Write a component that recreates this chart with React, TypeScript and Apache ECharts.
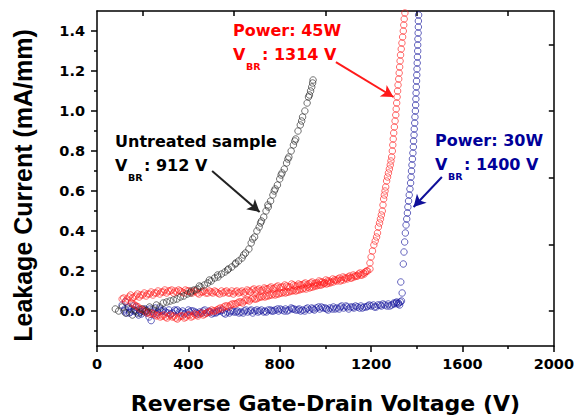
import React, { useEffect, useRef } from "react";
import * as echarts from "echarts";

// Untreated sample (V, mA/mm)
const untreated: [number, number][] = [
  [80, 0.01], [95, 0.0], [110, 0.02], [125, -0.01], [140, 0.01], [155, -0.02], [170, 0.0], [185, -0.01],
  [200, 0.01], [215, 0.0], [230, 0.02], [245, 0.01], [260, 0.03], [275, 0.02], [290, 0.04], [305, 0.045],
  [320, 0.05], [335, 0.055], [350, 0.06], [365, 0.07], [380, 0.075], [395, 0.085], [410, 0.09], [425, 0.105],
  [440, 0.11], [455, 0.12], [470, 0.13], [485, 0.14], [500, 0.15], [515, 0.165], [530, 0.17], [545, 0.185],
  [560, 0.195], [575, 0.21], [590, 0.22], [605, 0.235], [620, 0.25], [635, 0.265], [650, 0.29], [665, 0.31],
  [675, 0.34], [690, 0.37], [700, 0.4], [710, 0.42], [720, 0.45], [730, 0.47], [740, 0.5], [750, 0.52],
  [760, 0.55], [770, 0.58], [780, 0.61], [790, 0.63], [800, 0.66], [810, 0.69], [820, 0.71], [830, 0.74],
  [840, 0.77], [850, 0.8], [860, 0.83], [870, 0.86], [880, 0.9], [890, 0.93], [900, 0.97], [910, 1.0],
  [920, 1.04], [930, 1.08], [940, 1.12], [946, 1.155], [944, 1.14], [935, 1.1],
  [412, 0.1], [448, 0.125], [492, 0.155], [528, 0.18], [572, 0.205], [608, 0.24], [642, 0.28], [682, 0.36],
  [716, 0.44], [748, 0.53], [776, 0.6], [806, 0.68], [836, 0.76], [866, 0.85], [896, 0.95], [926, 1.07],
];

// Power: 45W
const power45Upper: [number, number][] = [
  [110, 0.06], [125, 0.05], [140, 0.07], [155, 0.065], [170, 0.075], [185, 0.07], [200, 0.08], [215, 0.075],
  [230, 0.085], [245, 0.08], [260, 0.09], [275, 0.085], [290, 0.095], [305, 0.09], [320, 0.1], [335, 0.09],
  [350, 0.095], [365, 0.1], [380, 0.09], [395, 0.1], [410, 0.095], [425, 0.1], [440, 0.09], [455, 0.095],
  [470, 0.1], [485, 0.09], [500, 0.095], [515, 0.1], [530, 0.09], [545, 0.1], [560, 0.095], [575, 0.09],
  [590, 0.1], [605, 0.095], [620, 0.09], [635, 0.1], [650, 0.095], [665, 0.1], [680, 0.105], [695, 0.1],
  [710, 0.11], [725, 0.105], [740, 0.11], [755, 0.115], [770, 0.11], [785, 0.12], [800, 0.115], [815, 0.12],
  [830, 0.125], [845, 0.12], [860, 0.13], [875, 0.125], [890, 0.13], [905, 0.135], [920, 0.13], [935, 0.14],
  [950, 0.135], [965, 0.14], [980, 0.145], [995, 0.14], [1010, 0.15], [1025, 0.145], [1040, 0.155], [1055, 0.16],
  [1070, 0.155], [1085, 0.165], [1100, 0.17], [1115, 0.165], [1130, 0.175], [1145, 0.185], [1160, 0.18],
  [1175, 0.195], [1185, 0.2], [1195, 0.21],
  [117, 0.065], [132, 0.06], [147, 0.08], [162, 0.07], [177, 0.085], [192, 0.08], [207, 0.09], [222, 0.085],
  [237, 0.095], [252, 0.09], [267, 0.1], [282, 0.095], [297, 0.105], [312, 0.1], [327, 0.105], [342, 0.1],
  [357, 0.105], [372, 0.095], [387, 0.105], [402, 0.1], [417, 0.09], [432, 0.1], [447, 0.085], [462, 0.095],
  [477, 0.09], [492, 0.1], [507, 0.09], [522, 0.095], [537, 0.085], [552, 0.09], [567, 0.1], [582, 0.09],
  [597, 0.085], [612, 0.1], [627, 0.095], [642, 0.09], [657, 0.105], [672, 0.095], [687, 0.11], [702, 0.105],
  [717, 0.1], [732, 0.115], [747, 0.11], [762, 0.12], [777, 0.115], [792, 0.125], [807, 0.12], [822, 0.13],
  [837, 0.12], [852, 0.135], [867, 0.125], [882, 0.135], [897, 0.13], [912, 0.14], [927, 0.135], [942, 0.145],
  [957, 0.14], [972, 0.15], [987, 0.145], [1002, 0.155], [1017, 0.15], [1032, 0.16], [1047, 0.155], [1062, 0.165],
  [1077, 0.17], [1092, 0.165], [1107, 0.175], [1122, 0.18], [1137, 0.175], [1152, 0.19], [1167, 0.19], [1180, 0.2],
];
const power45Lower: [number, number][] = [
  [150, 0.04], [165, 0.03], [180, 0.02], [195, 0.01], [210, 0.0], [225, -0.005], [240, -0.01], [255, -0.02],
  [270, -0.02], [285, -0.025], [300, -0.03], [315, -0.025], [330, -0.03], [345, -0.035], [360, -0.03],
  [375, -0.025], [390, -0.03], [405, -0.02], [420, -0.025], [435, -0.02], [450, -0.015], [465, -0.02],
  [480, -0.01], [495, -0.005], [510, 0.0], [525, 0.005], [540, 0.015], [555, 0.02], [570, 0.025], [585, 0.03],
  [600, 0.035], [615, 0.04], [630, 0.045], [645, 0.05], [660, 0.055], [675, 0.06], [690, 0.06], [705, 0.065],
  [720, 0.07], [735, 0.07], [750, 0.075], [765, 0.08], [780, 0.08], [795, 0.085], [810, 0.09], [825, 0.09],
  [840, 0.095], [855, 0.1], [870, 0.1], [885, 0.105], [900, 0.11], [915, 0.11], [930, 0.115], [945, 0.12],
  [960, 0.125], [975, 0.13], [990, 0.135], [1005, 0.135], [1020, 0.14], [1035, 0.145], [1050, 0.15],
  [1065, 0.15], [1080, 0.155], [1095, 0.16], [1110, 0.165], [1125, 0.17], [1140, 0.175], [1155, 0.18],
  [1170, 0.185],
  [157, 0.035], [172, 0.025], [187, 0.01], [202, 0.005], [217, -0.01], [232, -0.015], [247, -0.015], [262, -0.025],
  [277, -0.03], [292, -0.02], [307, -0.035], [322, -0.02], [337, -0.025], [352, -0.04], [367, -0.025], [382, -0.035],
  [397, -0.02], [412, -0.03], [427, -0.015], [442, -0.025], [457, -0.01], [472, -0.015], [487, -0.005], [502, 0.005],
  [517, 0.0], [532, 0.01], [547, 0.01], [562, 0.025], [577, 0.02], [592, 0.035], [607, 0.035], [622, 0.045],
  [637, 0.04], [652, 0.055], [667, 0.05], [682, 0.065], [697, 0.06], [712, 0.07], [727, 0.075], [742, 0.075],
  [757, 0.08], [772, 0.085], [787, 0.085], [802, 0.09], [817, 0.095], [832, 0.095], [847, 0.1], [862, 0.105],
  [877, 0.105], [892, 0.11], [907, 0.115], [922, 0.12], [937, 0.12], [952, 0.125], [967, 0.13], [982, 0.13],
  [997, 0.14], [1012, 0.14],
];
const power45Rise: [number, number][] = [
  [1195, 0.24], [1200, 0.27], [1206, 0.3], [1212, 0.33], [1218, 0.35], [1224, 0.37], [1228, 0.39], [1232, 0.42],
  [1237, 0.44], [1241, 0.46], [1245, 0.48], [1249, 0.5], [1252, 0.53], [1255, 0.56], [1258, 0.58], [1261, 0.6],
  [1264, 0.62], [1268, 0.65], [1272, 0.67], [1276, 0.69], [1280, 0.71], [1284, 0.73], [1287, 0.75], [1290, 0.77],
  [1293, 0.8], [1295, 0.83], [1297, 0.86], [1299, 0.89], [1302, 0.92], [1305, 0.95], [1308, 0.98], [1310, 1.01],
  [1312, 1.04], [1314, 1.07], [1316, 1.1], [1318, 1.13], [1321, 1.16], [1323, 1.19], [1325, 1.22], [1327, 1.25],
  [1329, 1.28], [1332, 1.31], [1335, 1.34], [1338, 1.37], [1341, 1.4], [1343, 1.43], [1345, 1.46], [1348, 1.49],
];
const power45 = [...power45Upper, ...power45Lower, ...power45Rise];

// Power: 30W
const power30Flat: [number, number][] = [
  [110, 0.03], [118, 0.0], [125, 0.045], [130, -0.01], [138, 0.02], [145, -0.005], [150, 0.01], [160, 0.0],
  [170, 0.02], [175, -0.01], [185, 0.005], [195, -0.015], [200, 0.0], [210, 0.01], [220, -0.01], [228, -0.03],
  [237, -0.048], [245, 0.0], [255, 0.015], [265, -0.005], [275, 0.01], [285, 0.0], [300, -0.005], [315, 0.005],
  [330, -0.01], [345, 0.0], [360, -0.005], [375, 0.0], [390, -0.01], [405, -0.005], [420, 0.0], [435, -0.01],
  [450, -0.005], [465, 0.0], [480, -0.01], [495, -0.005], [510, -0.01], [525, -0.005], [540, 0.0], [555, -0.01],
  [570, -0.005], [585, 0.0], [600, -0.005], [615, 0.0], [630, -0.005], [645, 0.0], [660, -0.005], [675, 0.005],
  [690, 0.0], [705, -0.005], [720, 0.005], [735, 0.0], [750, 0.005], [765, 0.0], [780, 0.005], [795, 0.0],
  [810, 0.005], [825, 0.01], [840, 0.005], [855, 0.01], [870, 0.005], [885, 0.01], [900, 0.005], [915, 0.01],
  [930, 0.005], [945, 0.01], [960, 0.015], [975, 0.01], [990, 0.015], [1005, 0.01], [1020, 0.015], [1035, 0.02],
  [1050, 0.015], [1065, 0.02], [1080, 0.015], [1095, 0.02], [1110, 0.02], [1125, 0.015], [1140, 0.02],
  [1155, 0.025], [1170, 0.02], [1185, 0.025], [1200, 0.025], [1215, 0.02], [1230, 0.03], [1245, 0.025],
  [1260, 0.03], [1275, 0.035], [1290, 0.03], [1300, 0.035], [1310, 0.04], [1320, 0.04], [1328, 0.045], [1333, 0.05],
  [122, 0.01], [142, -0.01], [157, 0.025], [182, -0.02], [207, -0.005], [232, 0.01], [262, -0.015], [292, 0.005],
  [322, -0.015], [352, 0.005], [382, -0.015], [412, 0.0], [442, -0.015], [472, 0.005], [502, -0.015], [532, 0.0],
  [562, -0.015], [592, 0.0], [622, -0.01], [652, 0.005], [682, -0.01], [712, 0.0], [742, -0.005], [772, 0.0],
  [802, 0.01], [832, 0.0], [862, 0.01], [892, 0.0], [922, 0.015], [952, 0.005], [982, 0.02], [1012, 0.005],
  [1042, 0.01], [1072, 0.025], [1102, 0.01], [1132, 0.025], [1162, 0.015], [1192, 0.03], [1222, 0.02],
  [1252, 0.035], [1282, 0.025], [1312, 0.045], [1325, 0.03],
  [165, 0.005], [190, -0.005], [215, 0.005], [250, -0.01], [280, 0.0], [310, -0.01], [340, 0.005], [370, -0.01],
  [400, 0.005], [430, -0.005], [460, -0.01], [490, 0.0], [520, -0.01], [550, 0.005], [580, -0.01], [610, -0.005],
  [640, -0.01], [670, 0.0], [700, 0.005], [730, -0.005], [760, 0.005], [790, 0.01], [820, 0.0], [850, 0.015],
  [880, 0.005], [910, 0.0], [940, 0.015], [970, 0.02], [1000, 0.015], [1030, 0.01], [1060, 0.01], [1090, 0.025],
  [1120, 0.02], [1150, 0.015], [1180, 0.02], [1210, 0.03], [1240, 0.03], [1270, 0.025], [1300, 0.04], [1318, 0.035],
];
const power30Rise: [number, number][] = [
  [1336, 0.09], [1330, 0.145], [1341, 0.235], [1344, 0.295], [1347, 0.345], [1350, 0.39], [1353, 0.43],
  [1356, 0.46], [1359, 0.49], [1361, 0.52], [1364, 0.55], [1367, 0.58], [1370, 0.61], [1373, 0.64], [1375, 0.67],
  [1377, 0.7], [1379, 0.73], [1381, 0.76], [1383, 0.79], [1385, 0.82], [1386, 0.85], [1388, 0.88], [1389, 0.91],
  [1391, 0.94], [1392, 0.97], [1394, 1.0], [1395, 1.03], [1396, 1.06], [1397, 1.09], [1398, 1.12], [1399, 1.15],
  [1400, 1.18], [1401, 1.21], [1402, 1.24], [1403, 1.27], [1404, 1.3], [1404, 1.33], [1405, 1.36], [1406, 1.39],
  [1407, 1.42], [1407, 1.45], [1408, 1.48],
];
const power30 = [...power30Flat, ...power30Rise];

// Axis ticks
const yMajorTicks = [0, 0.2, 0.4, 0.6, 0.8, 1.0, 1.2, 1.4];
const yMinorTicks = [-0.1, 0.1, 0.3, 0.5, 0.7, 0.9, 1.1, 1.3];
const topTicks = [200, 600, 1000, 1400, 1800];
const rightTicks = [0, 0.333, 0.667, 1.0, 1.333];

// Annotation arrows (data coordinates: start -> tip)
const arrowUntreated: [number, number][] = [[504, 0.7], [712, 0.495]];
const arrow45: [number, number][] = [[1046, 1.244], [1298, 1.07]];
const arrow30: [number, number][] = [[1510, 0.67], [1386, 0.52]];

const FONT = "DejaVu Sans";
const BLACK = "#000000";
const RED = "#ff0000";
const BLUE = "#000099";

function annotation(x: number, y: number, line1: string, rest: string, color: string) {
  const base = { fontFamily: FONT, fontWeight: "bold", fill: color, align: "left", verticalAlign: "middle" };
  return [
    { type: "text", x, y, silent: true, z: 20, style: { ...base, text: line1, fontSize: 16 } },
    { type: "text", x, y: y + 24, silent: true, z: 20, style: { ...base, text: "V", fontSize: 16 } },
    { type: "text", x: x + 13, y: y + 36, silent: true, z: 20, style: { ...base, text: "BR", fontSize: 9.5 } },
    { type: "text", x: x + 29, y: y + 24, silent: true, z: 20, style: { ...base, text: rest, fontSize: 16 } },
  ];
}

function scatter(name: string, data: [number, number][], color: string, arrow: [number, number][]) {
  return {
    type: "scatter",
    name,
    data,
    symbol: "circle",
    symbolSize: 6.5,
    clip: true,
    silent: true,
    itemStyle: { color: "transparent", borderColor: color, borderWidth: 0.8 },
    emphasis: { disabled: true },
    markLine: {
      silent: true,
      symbol: ["none", "arrow"],
      symbolSize: [10, 12],
      label: { show: false },
      itemStyle: { color },
      lineStyle: { color, width: 2, type: "solid" },
      emphasis: { disabled: true },
      data: [[{ coord: arrow[0] }, { coord: arrow[1] }]],
    },
  };
}

export default function App() {
  const ref = useRef<HTMLDivElement>(null);
  useEffect(() => {
    if (!ref.current) return;
    const chart = echarts.init(ref.current, undefined, { renderer: "svg" });
    const axisLine = { show: true, onZero: false, lineStyle: { color: "#000", width: 1.5 } };
    const tickStyle = { color: "#000", width: 1.5 };
    const labelStyle = { color: "#000", fontFamily: FONT, fontWeight: "bold", fontSize: 14.5 };
    const yMin = -0.175;
    const yMax = 1.5;
    chart.setOption({
      animation: false,
      backgroundColor: "#ffffff",
      grid: { left: 97, right: 19, top: 11, bottom: 72 },
      xAxis: [
        {
          type: "value",
          min: 0,
          max: 2000,
          interval: 400,
          position: "bottom",
          axisLine,
          axisTick: { show: true, length: 6, inside: false, lineStyle: tickStyle },
          minorTick: { show: true, splitNumber: 2, length: 3, lineStyle: tickStyle },
          splitLine: { show: false },
          minorSplitLine: { show: false },
          axisLabel: {
            ...labelStyle,
            margin: 10,
            showMinLabel: true,
            showMaxLabel: true,
            formatter: (v: number) => String(Math.round(v)),
          },
          name: "Reverse Gate-Drain Voltage (V)",
          nameLocation: "middle",
          nameGap: 46,
          nameTextStyle: { color: "#000", fontFamily: FONT, fontWeight: "bold", fontSize: 22 },
        },
        {
          type: "value",
          min: 0,
          max: 2000,
          position: "top",
          axisLine,
          axisTick: { show: true, inside: true, length: 5, lineStyle: tickStyle, customValues: topTicks },
          axisLabel: { show: false },
          splitLine: { show: false },
        },
      ],
      yAxis: [
        {
          type: "value",
          min: yMin,
          max: yMax,
          position: "left",
          axisLine,
          axisTick: { show: true, length: 6, inside: false, lineStyle: tickStyle, customValues: yMajorTicks },
          axisLabel: {
            ...labelStyle,
            margin: 12,
            customValues: yMajorTicks,
            formatter: (v: number) => v.toFixed(1),
          },
          splitLine: { show: false },
          name: "Leakage Current (mA/mm)",
          nameLocation: "middle",
          nameGap: 62,
          nameTextStyle: {
            color: "#000",
            fontFamily: "Liberation Sans",
            fontWeight: "bold",
            fontSize: 25,
            padding: [0, 14, 0, 0],
          },
        },
        {
          type: "value",
          min: yMin,
          max: yMax,
          position: "left",
          axisLine: { show: false },
          axisTick: { show: true, length: 3, inside: false, lineStyle: tickStyle, customValues: yMinorTicks },
          axisLabel: { show: false },
          splitLine: { show: false },
        },
        {
          type: "value",
          min: yMin,
          max: yMax,
          position: "right",
          axisLine,
          axisTick: { show: true, length: 5, inside: true, lineStyle: tickStyle, customValues: rightTicks },
          axisLabel: { show: false },
          splitLine: { show: false },
        },
      ],
      series: [
        scatter("Power: 30W", power30, "#10109a", arrow30),
        scatter("Power: 45W", power45, "#ff1a1a", arrow45),
        scatter("Untreated sample", untreated, "#222222", arrowUntreated),
      ],
      graphic: [
        ...annotation(115, 141, "Untreated sample", ": 912 V", BLACK),
        ...annotation(233, 30, "Power: 45W", ": 1314 V", RED),
        ...annotation(435, 140, "Power: 30W", ": 1400 V", BLUE),
      ],
    });
    return () => chart.dispose();
  }, []);
  return (
    <div
      ref={ref}
      style={{ position: "absolute", left: 0, top: 0, width: 577, height: 419, background: "#fff" }}
    />
  );
}
